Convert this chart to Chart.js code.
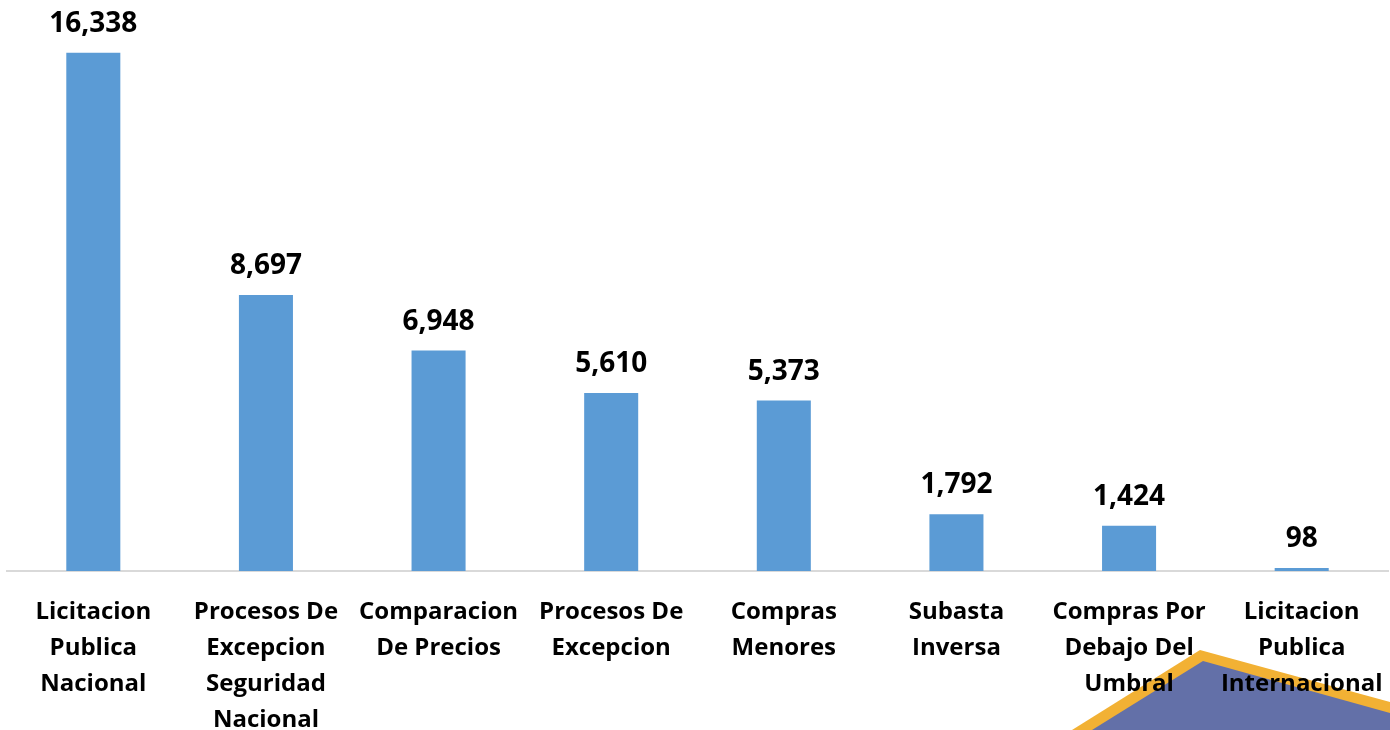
<!DOCTYPE html>
<html>
<head>
<meta charset="utf-8">
<script src="https://cdn.jsdelivr.net/npm/chart.js@4.4.1/dist/chart.umd.min.js"></script>
<style>
  html, body { margin: 0; padding: 0; background: #fff; }
  #wrap { width: 1390px; height: 730px; position: relative; }
</style>
</head>
<body>
<div id="wrap"><canvas id="chart"></canvas></div>
<script>
// Categories (multi-line labels as in the reference)
const categories = [
  ["Licitacion", "Publica", "Nacional"],
  ["Procesos De", "Excepcion", "Seguridad", "Nacional"],
  ["Comparacion", "De Precios"],
  ["Procesos De", "Excepcion"],
  ["Compras", "Menores"],
  ["Subasta", "Inversa"],
  ["Compras Por", "Debajo Del", "Umbral"],
  ["Licitacion", "Publica", "Internacional"],
];
const counts = [16338, 8697, 6948, 5610, 5373, 1792, 1424, 98];

const barColor = "#5B9BD5";
const fontFamily = "'Open Sans', 'Liberation Sans', sans-serif";

// Decorative corner shape (bottom right), drawn behind the chart
const cornerShape = {
  id: "cornerShape",
  beforeDraw(chart) {
    const ctx = chart.ctx;
    ctx.save();
    ctx.fillStyle = "#F2B134";
    ctx.beginPath();
    ctx.moveTo(1072, 730);
    ctx.lineTo(1200, 650);
    ctx.lineTo(1390, 702);
    ctx.lineTo(1390, 730);
    ctx.closePath();
    ctx.fill();
    ctx.fillStyle = "#6370A8";
    ctx.beginPath();
    ctx.moveTo(1092, 730);
    ctx.lineTo(1203, 661);
    ctx.lineTo(1390, 713);
    ctx.lineTo(1390, 730);
    ctx.closePath();
    ctx.fill();
    ctx.restore();
  },
};

// Value labels above the bars
const valueLabels = {
  id: "valueLabels",
  afterDatasetsDraw(chart) {
    const ctx = chart.ctx;
    const meta = chart.getDatasetMeta(0);
    ctx.save();
    ctx.font = "bold 28px " + fontFamily;
    ctx.fillStyle = "#000";
    ctx.textAlign = "center";
    ctx.textBaseline = "alphabetic";
    meta.data.forEach((bar, i) => {
      ctx.fillText(counts[i].toLocaleString("en-US"), bar.x, bar.y - 21);
    });
    ctx.restore();
  },
};

new Chart(document.getElementById("chart"), {
  type: "bar",
  data: {
    labels: categories,
    datasets: [
      {
        data: counts,
        backgroundColor: barColor,
        categoryPercentage: 1,
        barPercentage: 0.313,
      },
    ],
  },
  options: {
    responsive: true,
    maintainAspectRatio: false,
    animation: false,
    layout: { padding: { left: 7, right: 2, top: 0, bottom: 0 } },
    plugins: {
      legend: { display: false },
      tooltip: { enabled: false },
    },
    scales: {
      x: {
        grid: { display: false, drawTicks: false },
        border: { display: true, color: "#D9D9D9", width: 2 },
        ticks: {
          color: "#000",
          padding: 23,
          autoSkip: false,
          maxRotation: 0,
          font: { family: fontFamily, size: 24, weight: "bold", lineHeight: "36px" },
        },
        afterFit(scale) {
          // fixed axis height, and no extra side padding for wide labels
          scale.height = 159;
          scale.paddingLeft = 0;
          scale.paddingRight = 0;
        },
      },
      y: {
        display: false,
        min: 0,
        max: 18000,
      },
    },
  },
  plugins: [cornerShape, valueLabels],
});
</script>
</body>
</html>
